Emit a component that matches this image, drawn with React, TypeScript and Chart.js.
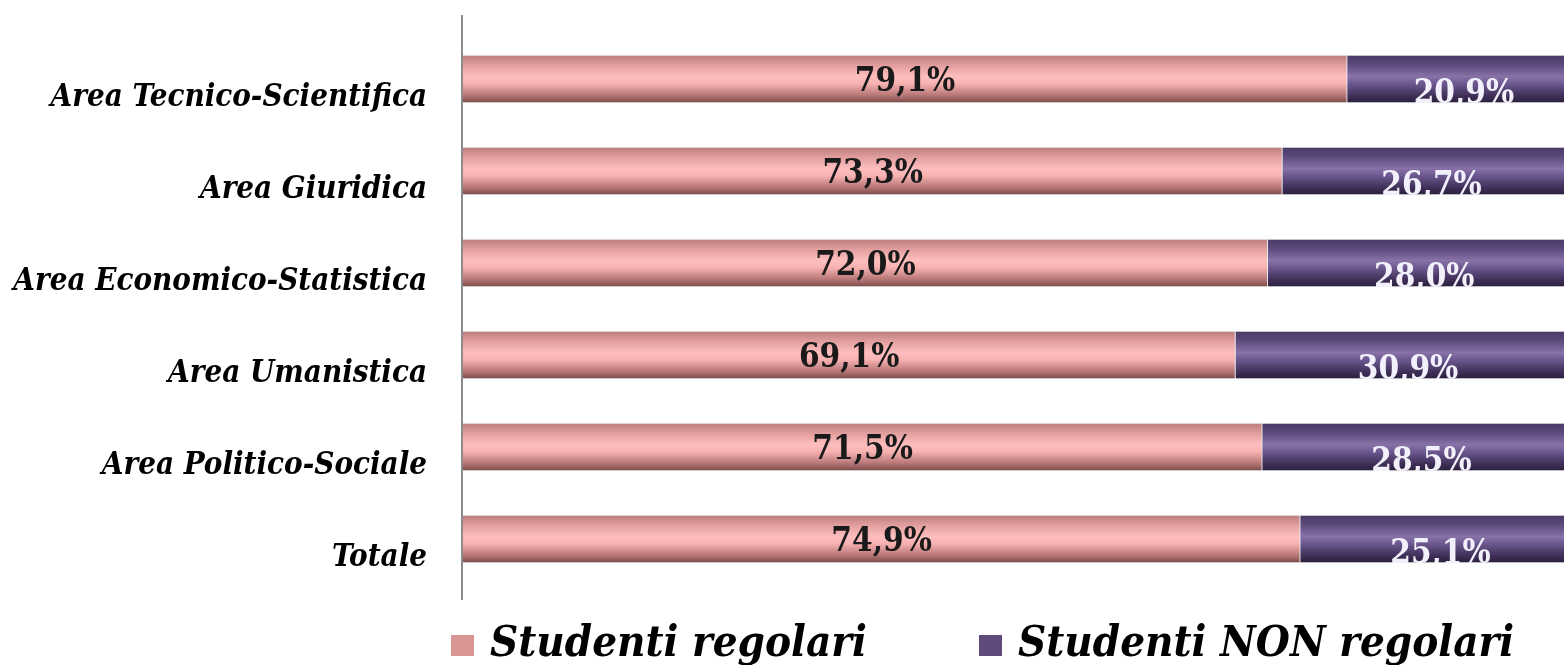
import React, { useEffect, useRef } from "react";
import { Chart, registerables } from "chart.js";

Chart.register(...registerables);

const categories = [
  "Area Tecnico-Scientifica",
  "Area Giuridica",
  "Area Economico-Statistica",
  "Area Umanistica",
  "Area Politico-Sociale",
  "Totale",
];
const regolari = [79.1, 73.3, 72.0, 69.1, 71.5, 74.9];
const nonRegolari = [20.9, 26.7, 28.0, 30.9, 28.5, 25.1];
const seriesNames = ["Studenti regolari", "Studenti NON regolari"];
const legendColors = ["#D99594", "#604A7B"];

const FONT = "'DejaVu Serif Condensed', 'Liberation Serif'";

const fmt = (v: number) => v.toFixed(1).replace(".", ",") + "%";

function gradientFor(ctx: any, stops: [number, string][]) {
  const chart = ctx.chart;
  const yScale = chart.scales?.y;
  if (!yScale || ctx.dataIndex === undefined) return stops[2][1];
  const yc = yScale.getPixelForValue(ctx.dataIndex);
  if (!isFinite(yc)) return stops[2][1];
  const h = 48;
  const g = chart.ctx.createLinearGradient(0, yc - h / 2, 0, yc + h / 2);
  stops.forEach(([o, c]) => g.addColorStop(o, c));
  return g;
}

const pinkStops: [number, string][] = [
  [0, "#b97c7c"],
  [0.2, "#e09c9c"],
  [0.45, "#ffbebe"],
  [0.6, "#f7b1b1"],
  [0.85, "#b47474"],
  [1, "#774848"],
];
const purpleStops: [number, string][] = [
  [0, "#4a3866"],
  [0.2, "#5c4a7c"],
  [0.45, "#8872a8"],
  [0.6, "#6c5890"],
  [0.85, "#3f2f58"],
  [1, "#2a1f3c"],
];

const axisLinePlugin = {
  id: "axisLine",
  afterDraw(chart: any) {
    const { ctx, chartArea } = chart;
    ctx.save();
    ctx.strokeStyle = "#8c8c8c";
    ctx.lineWidth = 2;
    ctx.beginPath();
    ctx.moveTo(chartArea.left - 1, chartArea.top - 18);
    ctx.lineTo(chartArea.left - 1, chartArea.bottom + 15);
    ctx.stroke();
    ctx.restore();
  },
};

const labelsPlugin = {
  id: "barLabels",
  afterDatasetsDraw(chart: any) {
    const { ctx } = chart;
    ctx.save();
    ctx.font = `bold 33px ${FONT}`;
    ctx.textAlign = "center";
    ctx.textBaseline = "alphabetic";
    chart.data.datasets.forEach((ds: any, di: number) => {
      const meta = chart.getDatasetMeta(di);
      meta.data.forEach((bar: any, i: number) => {
        const cx = (bar.x + bar.base) / 2;
        const v = ds.data[i] as number;
        if (di === 0) {
          ctx.fillStyle = "#1a1a1a";
          ctx.fillText(fmt(v), cx, bar.y + 12);
        } else {
          ctx.save();
          ctx.beginPath();
          ctx.rect(bar.base, bar.y - 24, bar.x - bar.base, 48);
          ctx.clip();
          ctx.fillStyle = "#f2f0fa";
          ctx.fillText(fmt(v), cx, bar.y + 24);
          ctx.restore();
        }
      });
    });
    ctx.restore();
  },
};

const legendPlugin = {
  id: "customLegend",
  afterDraw(chart: any) {
    const { ctx } = chart;
    const positions = [451, 979];
    ctx.save();
    ctx.font = `bold italic 43.5px ${FONT}`;
    ctx.textBaseline = "alphabetic";
    ctx.textAlign = "left";
    seriesNames.forEach((name, i) => {
      const x = positions[i];
      ctx.fillStyle = legendColors[i];
      ctx.fillRect(x, 635, 23, 21);
      ctx.fillStyle = "#000000";
      ctx.fillText(name, x + 39, 656);
    });
    ctx.restore();
  },
};

export default function App() {
  const ref = useRef<HTMLCanvasElement | null>(null);
  useEffect(() => {
    document.body.style.margin = "0";
    const canvas = ref.current!;
    const chart = new Chart(canvas, {
      type: "bar",
      data: {
        labels: categories,
        datasets: [
          {
            label: seriesNames[0],
            data: regolari,
            backgroundColor: (c: any) => gradientFor(c, pinkStops),
            borderColor: "#f0f0f0",
            borderWidth: 1,
            barThickness: 48,
          },
          {
            label: seriesNames[1],
            data: nonRegolari,
            backgroundColor: (c: any) => gradientFor(c, purpleStops),
            borderColor: "#ececec",
            borderWidth: { left: 2, top: 1, bottom: 1, right: 1 },
            barThickness: 48,
          },
        ],
      },
      options: {
        indexAxis: "y",
        responsive: false,
        animation: false,
        layout: { padding: { top: 33, bottom: 80, left: 0, right: 0 } },
        plugins: {
          legend: { display: false },
          tooltip: { enabled: false },
        },
        scales: {
          x: {
            stacked: true,
            display: false,
            min: 0,
            max: 98.5,
          },
          y: {
            stacked: true,
            grid: { display: false, drawTicks: false },
            border: { display: false },
            ticks: {
              padding: 36,
              labelOffset: 19,
              color: "#000000",
              font: { family: FONT, size: 31, weight: "bold", style: "italic" },
            },
            afterFit: (s: any) => {
              s.width = 463;
              s.paddingTop = 0;
              s.paddingBottom = 0;
            },
          },
        },
      },
      plugins: [axisLinePlugin, labelsPlugin, legendPlugin],
    });
    return () => chart.destroy();
  }, []);
  return (
    <div style={{ width: 1564, height: 665, background: "#ffffff" }}>
      <canvas ref={ref} width={1564} height={665} />
    </div>
  );
}
